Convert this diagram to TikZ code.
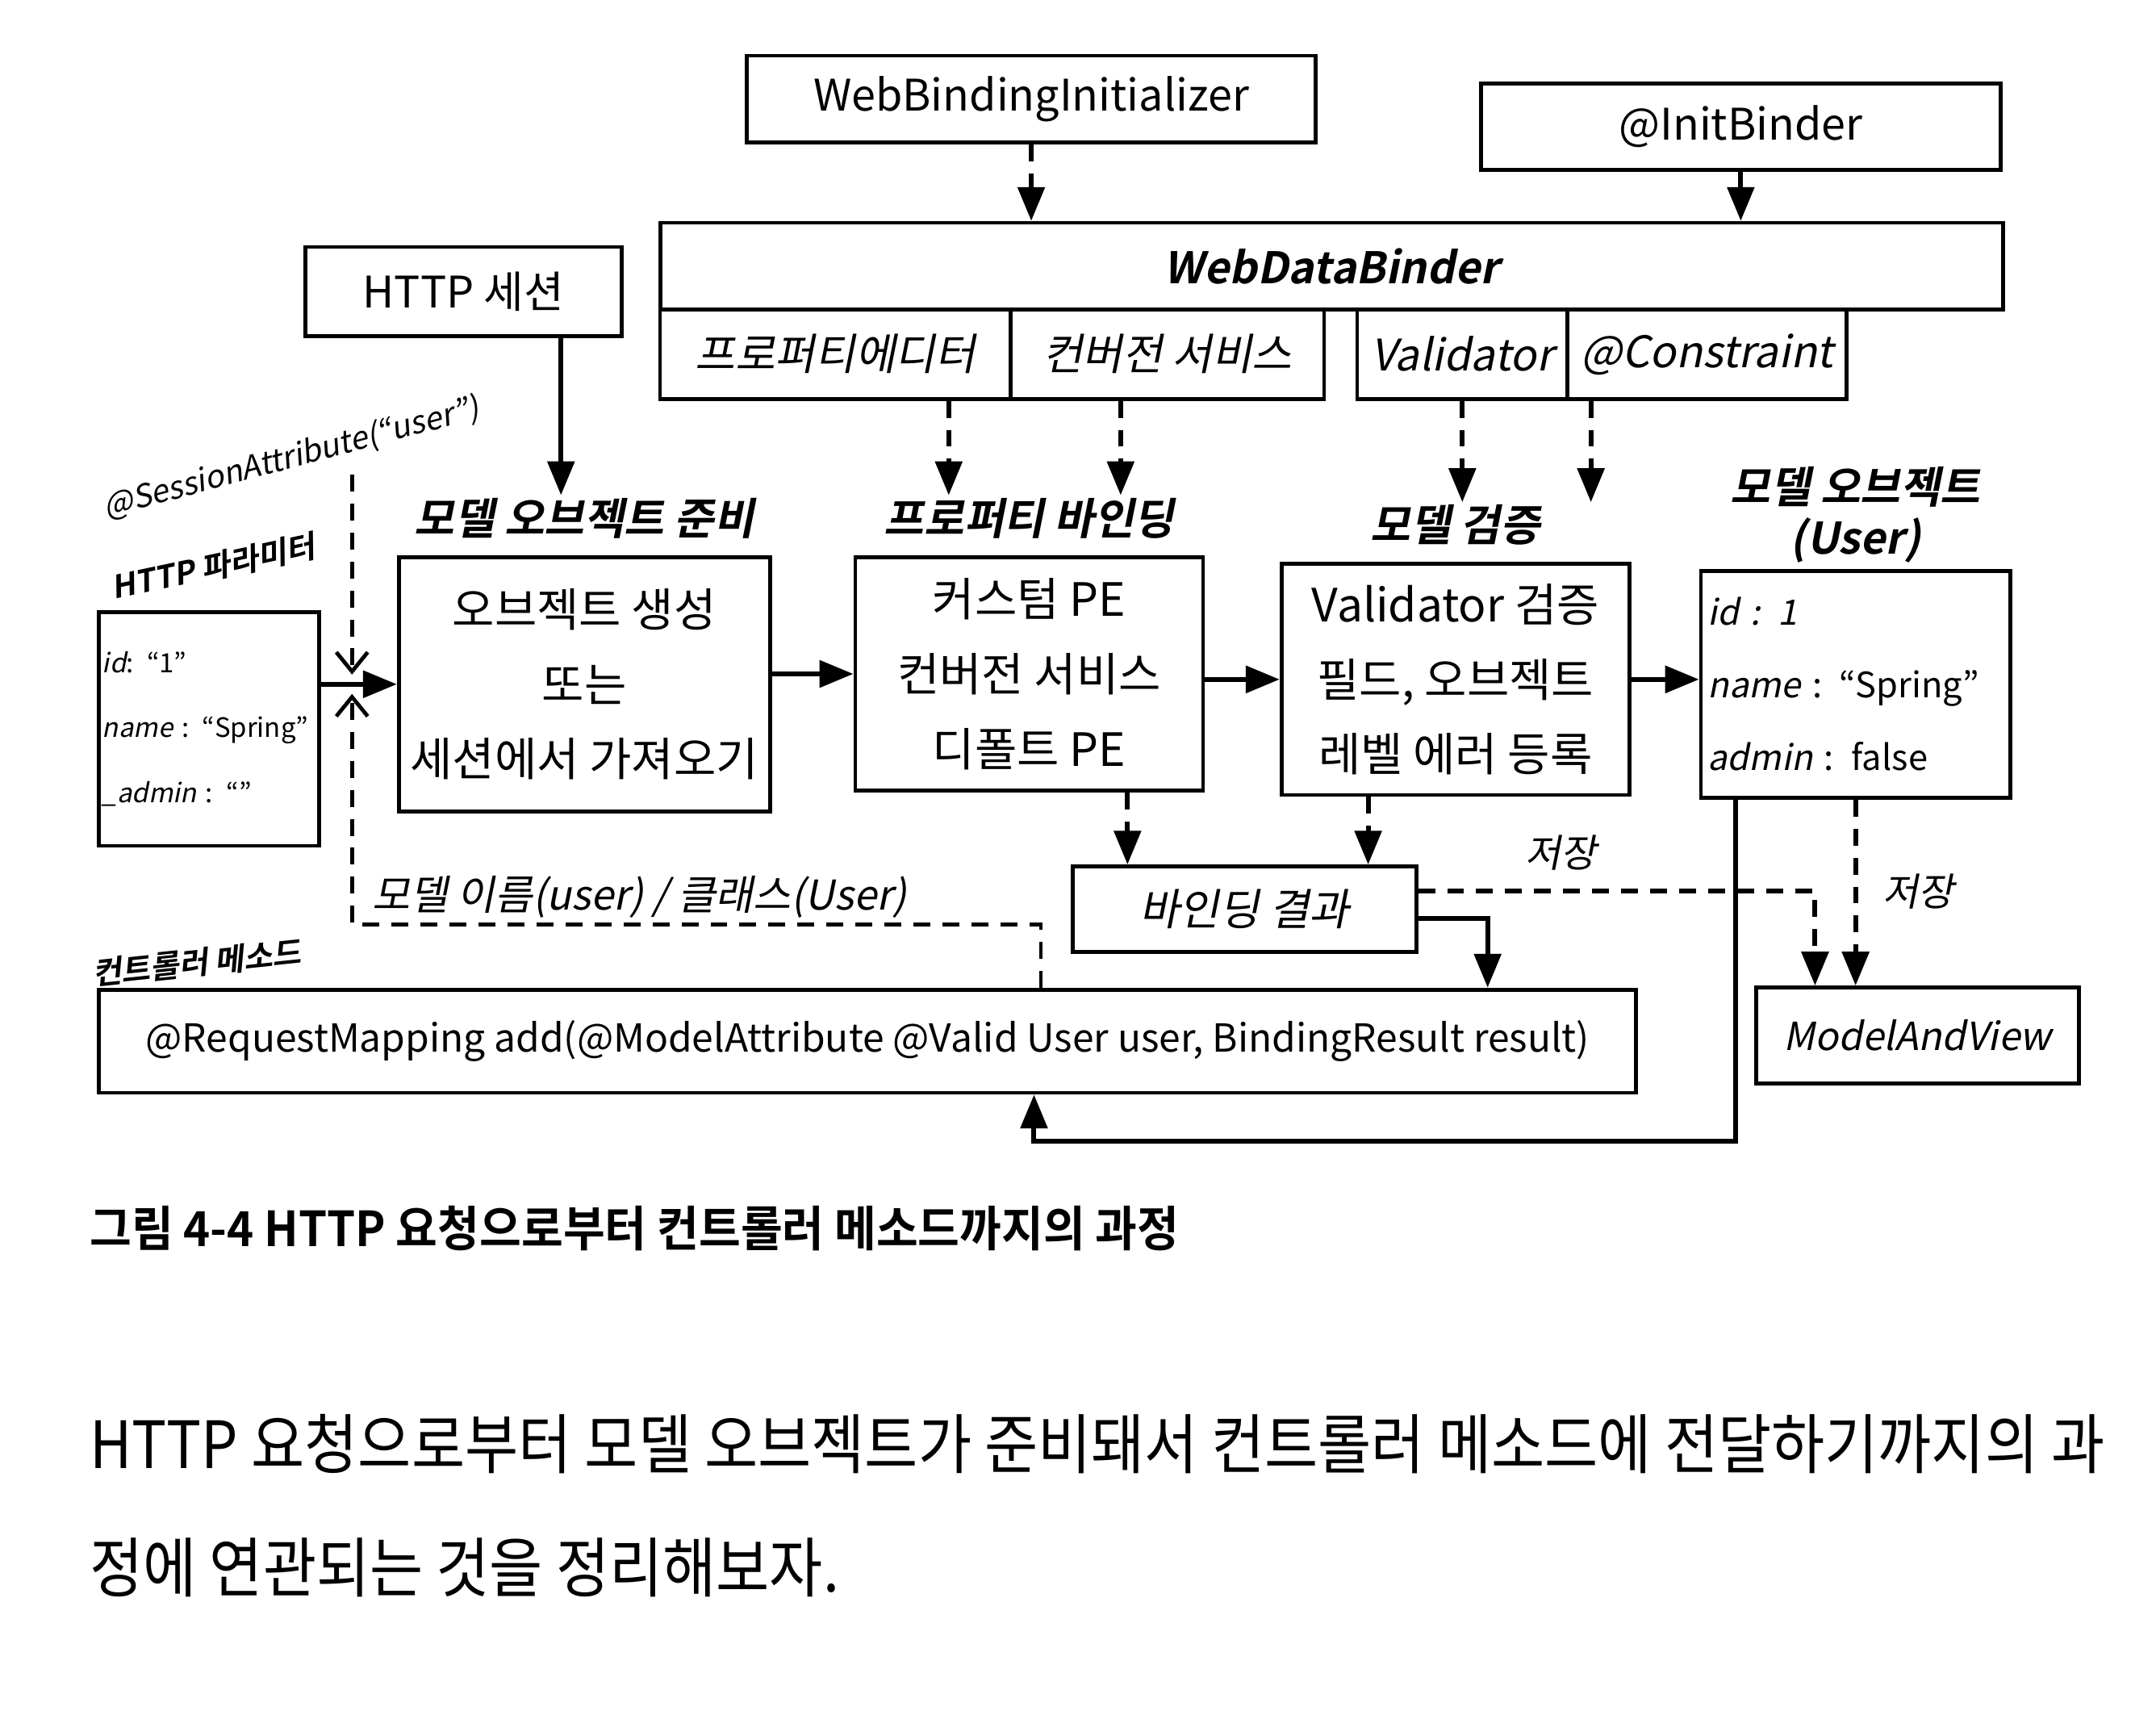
\documentclass[tikz,border=0pt]{standalone}
\usepackage{fontspec}
\setmainfont{Noto Sans CJK KR}[ItalicFont={Noto Sans CJK KR}, ItalicFeatures={FakeSlant=0.2}, BoldFont={Noto Sans CJK KR Bold}, BoldItalicFont={Noto Sans CJK KR Bold}, BoldItalicFeatures={FakeSlant=0.2}]
\newfontfamily\capfont{Noto Sans CJK KR Bold}[FakeStretch=0.94]
\newfontfamily\bodyfont{Noto Sans CJK KR}[FakeStretch=0.89]
\usetikzlibrary{arrows.meta,positioning}

\tikzset{
  box/.style={draw, line width=1.6pt, inner sep=2pt, align=center,
    font=\fontsize{18}{31}\selectfont},
  ibox/.style={box, font=\fontsize{18}{22}\selectfont\itshape},
  boxlabel/.style={align=center, inner sep=1pt,
    font=\fontsize{18}{21}\selectfont\bfseries\itshape},
  flow/.style={line width=2pt, -{Triangle[length=14pt,width=11pt]}},
  dflow/.style={flow, dash pattern=on 7pt off 5pt},
  vflow/.style={line width=1.6pt, dash pattern=on 7pt off 5pt,
    -{Straight Barb[length=8pt,width=13pt]}, shorten >=4pt},
  storelabel/.style={font=\fontsize{16}{18}\selectfont\itshape},
}

\begin{document}
\begin{tikzpicture}[x=0.02cm, y=-0.02cm]
\fill[white] (0,0) rectangle (1568,1244);
\useasboundingbox (0,0) rectangle (1568,1244);

% binder
\node[box, minimum width=8.28cm, minimum height=1.26cm] (wbi) at (750,72) {WebBindingInitializer};
\node[box, minimum width=7.56cm, minimum height=1.26cm] (ib) at (1266,92) {@InitBinder};
\node[box, minimum width=19.54cm, minimum height=1.26cm,
  font=\fontsize{18}{22}\selectfont\bfseries\itshape] (wdb) at (968.5,193.5) {WebDataBinder};
\node[ibox, minimum width=5.1cm, minimum height=1.3cm] (pe) at (607.5,257.5) {프로퍼티에디터};
\node[ibox, minimum width=4.56cm, minimum height=1.3cm] (cs) at (849,257.5) {컨버전 서비스};
\node[ibox, minimum width=3.06cm, minimum height=1.3cm] (val) at (1063.5,257.5) {Validator};
\node[ibox, minimum width=4.06cm, minimum height=1.3cm] (con) at (1241.5,257.5) {@Constraint};

% steps
\node[box, minimum width=4.6cm, minimum height=1.3cm] (sess) at (337,212) {HTTP 세션};
\node[box, minimum width=3.2cm, minimum height=3.4cm, text width=3.1cm, inner xsep=0.05cm,
  align=left, font=\fontsize{11}{27}\selectfont] (param) at (152,530)
  {\textit{id}: “1”\\ \textit{name} : “Spring”\\ \textit{\_admin} : “”};
\node[box, minimum width=5.4cm, minimum height=3.7cm, font=\fontsize{19}{31}\selectfont] (prep) at (425,497.5)
  {오브젝트 생성\\ 또는\\ 세션에서 가져오기};
\node[box, minimum width=5.06cm, minimum height=3.4cm, font=\fontsize{19}{31}\selectfont] (bind) at (748.5,490)
  {커스텀 PE\\ 컨버전 서비스\\ 디폴트 PE};
\node[box, minimum width=5.06cm, minimum height=3.36cm, font=\fontsize{19}{31}\selectfont] (valid) at (1058.5,494)
  {Validator 검증\\ 필드, 오브젝트\\ 레벨 에러 등록};
\node[box, minimum width=4.5cm, minimum height=3.3cm, text width=4.3cm, inner xsep=0.1cm,
  align=left, font=\fontsize{14.5}{30}\selectfont] (user) at (1349.5,497.5)
  {\textit{id : 1}\\ \textit{name} : “Spring”\\ \textit{admin} : false};
\node[ibox, minimum width=5cm, minimum height=1.24cm] (result) at (905,661) {바인딩 결과};
\node[box, minimum width=22.36cm, minimum height=1.5cm, font=\fontsize{16}{20}\selectfont] (ctrl) at (631,757)
  {@RequestMapping add(@ModelAttribute @Valid User user, BindingResult result)};
\node[ibox, minimum width=4.7cm, minimum height=1.4cm, font=\fontsize{16}{20}\selectfont\itshape] (mav) at (1394.5,753) {ModelAndView};

% labels
\node[boxlabel, above=0.2cm of prep] (preplbl) {모델 오브젝트 준비};
\node[boxlabel, above=0.2cm of bind] (bindlbl) {프로퍼티 바인딩};
\node[boxlabel, above=0.2cm of valid] (validlbl) {모델 검증};
\node[boxlabel, above=0.05cm of user] (userlbl) {모델 오브젝트\\(User)};
\node[boxlabel, rotate=12, font=\fontsize{13}{15}\selectfont\bfseries\itshape] (paramlbl) at (155,412) {HTTP 파라미터};
\node[boxlabel, rotate=6, font=\fontsize{13}{15}\selectfont\bfseries\itshape] (ctrllbl) at (143,700) {컨트롤러 메소드};
\node[rotate=15, font=\fontsize{13}{15}\selectfont\itshape] (salbl) at (212,333) {@SessionAttribute(“user”)};
\node[font=\fontsize{17}{20}\selectfont\itshape] (nmlbl) at (465,652) {모델 이름(user) / 클래스(User)};
\node[storelabel] (store1) at (1135,620) {저장};
\node[storelabel] (store2) at (1395,648) {저장};

% connectors
\draw[dflow] (wbi.south) -- (wbi.south |- wdb.north);
\draw[dflow] (ib.south) -- (ib.south |- wdb.north);
\draw[dflow] ([xshift=1.65cm]pe.south) -- ([xshift=1.65cm]pe.south |- bindlbl.north);
\draw[dflow] ([xshift=-0.68cm]cs.south) -- ([xshift=-0.68cm]cs.south |- bindlbl.north);
\draw[dflow] (val.south) -- (val.south |- validlbl.north);
\draw[dflow] ([xshift=-1.69cm]con.south) -- ([xshift=-1.69cm]con.south |- validlbl.north);
\draw[flow] ([xshift=1.42cm]sess.south) -- ([xshift=1.42cm]sess.south |- preplbl.north);
\draw[flow] (param.east |- prep.west) -- (prep.west);
\draw[flow] (prep.east |- bind.west) -- (bind.west);
\draw[flow] (bind.east |- valid.west) -- (valid.west);
\draw[flow] (valid.east) -- (valid.east -| user.west);
\draw[dflow] ([xshift=1.43cm]bind.south) -- ([xshift=1.43cm]bind.south |- result.north);
\draw[dflow] ([xshift=-1.27cm]valid.south) -- ([xshift=-1.27cm]valid.south |- result.north);
\draw[dflow] ([yshift=0.26cm]result.east) -| ([xshift=-1.49cm]mav.north);
\draw[dflow] (user.south) -- (user.south |- mav.north);
\draw[flow] ([yshift=-0.14cm]result.east) -| ([xshift=9.02cm]ctrl.north);
\coordinate (back) at (752,830);
\draw[flow] ([xshift=-1.75cm]user.south) |- (back) -- (back |- ctrl.south);
\coordinate (sa) at (256,345);
\draw[vflow] (sa) -- (sa |- prep.west);
\coordinate (nm) at (256,672);
\draw[vflow] ([xshift=2.52cm]ctrl.north) |- (nm) -- (nm |- prep.west);

% caption and text
\node[anchor=west, inner sep=0pt, font=\fontsize{20}{24}\capfont] (cap) at (65,893)
  {그림 4-4 HTTP 요청으로부터 컨트롤러 메소드까지의 과정};
\node[anchor=west, inner sep=0pt, font=\fontsize{27}{32}\bodyfont] (body1) at (65,1050)
  {HTTP 요청으로부터 모델 오브젝트가 준비돼서 컨트롤러 메소드에 전달하기까지의 과};
\node[anchor=west, inner sep=0pt, font=\fontsize{27}{32}\bodyfont] (body2) at (65,1140)
  {정에 연관되는 것을 정리해보자.};
\end{tikzpicture}
\end{document}
